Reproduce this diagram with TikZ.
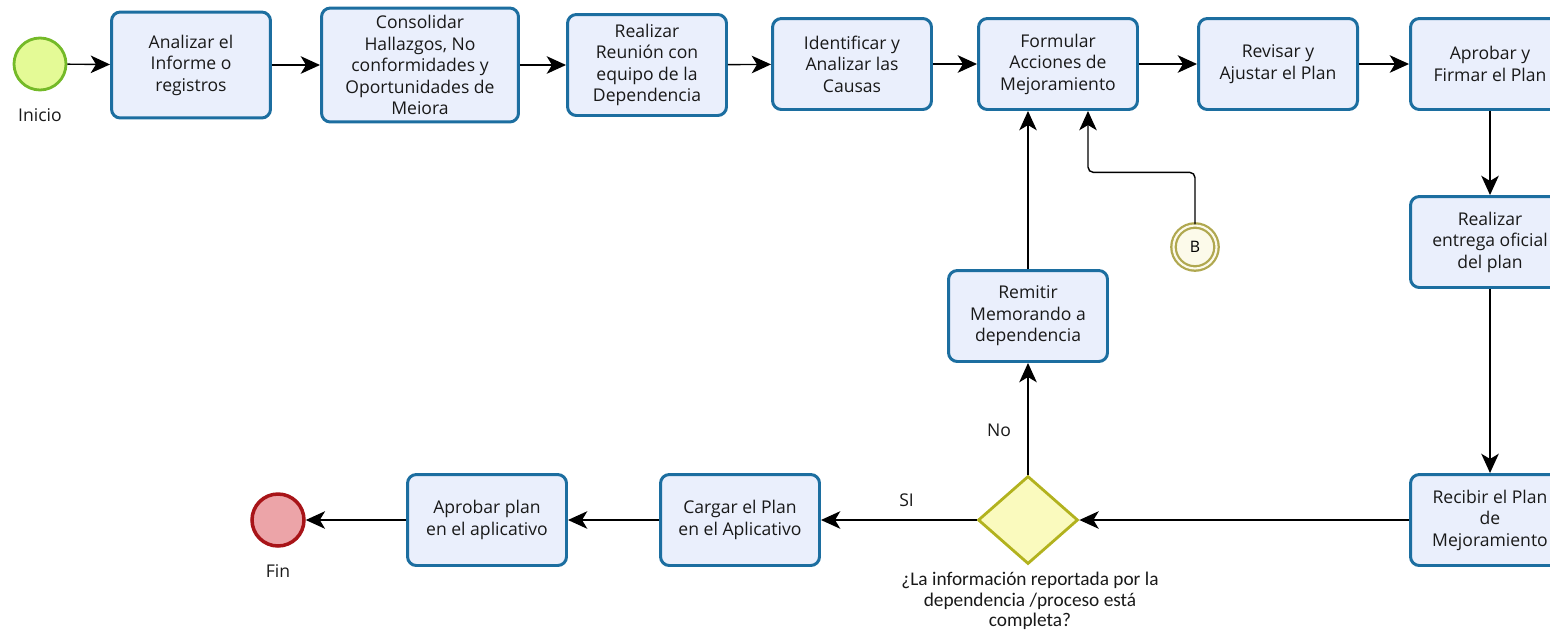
\documentclass[tikz,border=0pt]{standalone}
\usepackage{fontspec}
\setmainfont{Open Sans}
\newfontfamily\qfont{Carlito}
\usetikzlibrary{shapes.geometric,arrows.meta,positioning}
\definecolor{taskFill}{RGB}{234,239,252}
\definecolor{taskLine}{RGB}{28,110,160}
\definecolor{startFill}{RGB}{228,250,150}
\definecolor{startLine}{RGB}{116,186,40}
\definecolor{endFill}{RGB}{236,164,168}
\definecolor{endLine}{RGB}{168,20,24}
\definecolor{gwFill}{RGB}{250,250,190}
\definecolor{gwLine}{RGB}{178,178,30}
\definecolor{linkFill}{RGB}{252,250,234}
\definecolor{linkLine}{RGB}{176,168,80}

\begin{document}
\begin{tikzpicture}[x=0.02cm,y=-0.02cm,
    task/.style={draw=taskLine,fill=taskFill,line width=1.7pt,rounded corners=5pt,
      minimum width=3.18cm,minimum height=1.82cm,align=center,inner sep=2pt,
      font=\fontsize{10}{12.2}\selectfont,text=black!90},
    startev/.style={circle,draw=startLine,fill=startFill,line width=1.6pt,minimum size=1.04cm},
    endev/.style={circle,draw=endLine,fill=endFill,line width=2pt,minimum size=1.04cm},
    gateway/.style={diamond,draw=gwLine,fill=gwFill,line width=1.6pt,minimum width=2cm,
      minimum height=1.76cm,inner sep=0pt},
    flow/.style={-{Stealth[length=11pt,width=10pt,inset=3pt]},thick,black},
    lbl/.style={font=\fontsize{10}{12}\selectfont,text=black!90}]
  \clip (0,0) rectangle (1550,636);
  \useasboundingbox (0,0) rectangle (1550,636);

  % upper row
  \node[startev] (inicio) at (40,64) {};
  \node[lbl,below=0.22cm of inicio] (inicioL) {Inicio};
  \node[task,minimum height=2.12cm] (analizar) at (191,65) {Analizar el\\Informe o\\registros};
  \node[task,minimum width=3.94cm,minimum height=2.28cm] (consolidar) at (420,65)
    {Consolidar\\Hallazgos, No\\conformidades y\\Oportunidades de\\Meiora};
  \node[task,minimum height=2.02cm] (reunion) at (647,65)
    {Realizar\\Reunión con\\equipo de la\\Dependencia};
  \node[task] (causas) at (852,64) {Identificar y\\Analizar las\\Causas};
  \node[task] (formular) at (1058,64) {Formular\\Acciones de\\Mejoramiento};
  \node[task] (revisar) at (1278,64) {Revisar y\\Ajustar el Plan};
  \node[task] (firmar) at (1490,64) {Aprobar y\\Firmar el Plan};

  % right column
  \node[task] (entrega) at (1490,242) {Realizar\\entrega oficial\\del plan};
  \node[task] (recibir) at (1490,520) {Recibir el Plan\\de\\Mejoramiento};

  % decision and loop back
  \node[gateway] (gw) at (1028,520) {};
  \node[anchor=north,align=center,inner sep=0pt,font=\qfont\fontsize{11}{11.6}\selectfont,text=black!90] (gwL)
    at (1030,572) {¿La información reportada por la\\dependencia /proceso está\\completa?};
  \node[task] (remitir) at (1028,316) {Remitir\\Memorando a\\dependencia};
  \node[circle,draw=linkLine,fill=linkFill,line width=1.3pt,minimum size=0.86cm,
    double=linkFill,double distance=1.2pt,font=\fontsize{9}{10}\selectfont] (linkB) at (1195,247) {B};

  % lower row
  \node[task] (cargar) at (740,520) {Cargar el Plan\\en el Aplicativo};
  \node[task] (aprobar) at (487,520) {Aprobar plan\\en el aplicativo};
  \node[endev] (fin) at (278,520) {};
  \node[lbl,below=0.22cm of fin] (finL) {Fin};

  % connectors
  \draw[flow] (inicio) -- (analizar);
  \draw[flow] (analizar) -- (consolidar);
  \draw[flow] (consolidar) -- (reunion);
  \draw[flow] (reunion) -- (causas);
  \draw[flow] (causas) -- (formular);
  \draw[flow] (formular) -- (revisar);
  \draw[flow] (revisar) -- (firmar);
  \draw[flow] (firmar) -- (entrega);
  \draw[flow] (entrega) -- (recibir);
  \draw[flow] (recibir) -- (gw);
  \draw[flow] (gw) -- node[lbl,above=4pt,pos=0.45] (si) {SI} (cargar);
  \draw[flow] (cargar) -- (aprobar);
  \draw[flow] (aprobar) -- (fin);
  \draw[flow] (gw) -- node[lbl,left=6pt,pos=0.4] (no) {No} (remitir);
  \draw[flow] (remitir.north) -- (remitir.north |- formular.south);
  \draw[flow,rounded corners=3pt] (linkB.north) -- ++(0,-52) -- ++(-107,0)
    -- ([xshift=0.6cm]formular.south);
\end{tikzpicture}
\end{document}
